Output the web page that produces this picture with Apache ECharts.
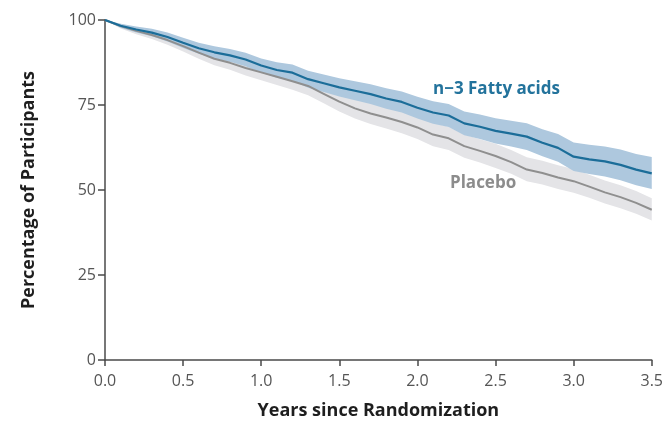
<!DOCTYPE html>
<html>
<head>
<meta charset="utf-8">
<script src="https://cdn.jsdelivr.net/npm/echarts@6/dist/echarts.min.js"></script>
<style>
  html, body { margin: 0; padding: 0; background: #fff; }
  #chart { width: 666px; height: 431px; }
</style>
</head>
<body>
<div id="chart"></div>
<script>
// years since randomization
var years = [0.0, 0.1, 0.2, 0.3, 0.4, 0.5, 0.6, 0.7, 0.8, 0.9, 1.0, 1.1, 1.2, 1.3, 1.4, 1.5, 1.6, 1.7,
    1.8, 1.9, 2.0, 2.1, 2.2, 2.3, 2.4, 2.5, 2.6, 2.7, 2.8, 2.9, 3.0, 3.1, 3.2, 3.3, 3.4, 3.5];

// n-3 fatty acids
var fattyLine = [100, 98.3, 97.2, 96.3, 95.0, 93.3, 91.7, 90.5, 89.6, 88.4, 86.6, 85.3, 84.5, 82.6, 81.4, 80.2, 79.2, 78.2,
    76.9, 75.9, 74.2, 72.8, 71.9, 69.6, 68.6, 67.4, 66.6, 65.7, 63.9, 62.4, 59.8, 59.0, 58.4, 57.4, 56.0, 54.9];
var fattyUpper = [100, 98.9, 98.1, 97.4, 96.3, 94.8, 93.3, 92.3, 91.5, 90.4, 88.7, 87.6, 86.9, 85.1, 84.0, 82.9, 82.0, 81.1,
    79.9, 79.0, 77.4, 76.1, 75.3, 73.1, 72.2, 71.1, 70.4, 69.6, 67.9, 66.5, 64.0, 63.3, 62.8, 61.9, 60.6, 59.7];
var fattyLower = [100, 97.7, 96.3, 95.2, 93.7, 91.8, 90.1, 88.7, 87.7, 86.4, 84.5, 83.0, 82.1, 80.1, 78.8, 77.5, 76.4, 75.3,
    73.9, 72.8, 71.0, 69.5, 68.5, 66.1, 65.0, 63.7, 62.8, 61.8, 59.9, 58.3, 55.6, 54.7, 54.0, 52.9, 51.4, 50.3];

// placebo
var placeboLine = [100, 98.2, 96.8, 95.6, 94.1, 92.3, 90.4, 88.6, 87.4, 85.9, 84.6, 83.3, 82.0, 80.6, 78.3, 76.0, 74.0, 72.5,
    71.3, 70.0, 68.4, 66.3, 65.2, 62.9, 61.5, 60.0, 58.2, 56.0, 55.0, 53.7, 52.6, 51.0, 49.3, 47.9, 46.2, 44.2];
var placeboUpper = [100, 98.9, 97.8, 96.8, 95.5, 93.9, 92.2, 90.5, 89.4, 88.1, 86.9, 85.7, 84.5, 83.3, 81.1, 78.9, 77.0, 75.6,
    74.5, 73.3, 71.8, 69.7, 68.6, 66.3, 64.9, 63.6, 61.8, 59.6, 58.6, 57.3, 56.2, 54.5, 52.8, 51.4, 49.7, 47.6];
var placeboLower = [100, 97.5, 95.8, 94.4, 92.7, 90.7, 88.6, 86.7, 85.4, 83.7, 82.3, 80.9, 79.5, 77.9, 75.5, 73.1, 71.0, 69.4,
    68.1, 66.7, 65.0, 62.9, 61.8, 59.5, 58.1, 56.5, 54.8, 52.6, 51.6, 50.3, 49.2, 47.7, 46.0, 44.6, 43.0, 41.0];

var xTicks = [0, 0.5, 1.0, 1.5, 2.0, 2.5, 3.0, 3.5];
var yTicks = [0, 25, 50, 75, 100];

var font = '"Open Sans", "DejaVu Sans", sans-serif';

function pairs(ys) {
    return years.map((x, i) => [x, ys[i]]);
}

// confidence band as a polygon: upper edge forward, lower edge back
function band(name, lo, hi, color) {
    return {
        name: name, type: 'custom', silent: true,
        data: [[0, 0]],
        renderItem: function (params, api) {
            var pts = [];
            years.forEach((x, i) => pts.push(api.coord([x, hi[i]])));
            for (var i = years.length - 1; i >= 0; i--) {
                pts.push(api.coord([years[i], lo[i]]));
            }
            return {
                type: 'polygon',
                shape: { points: pts },
                style: { fill: color }
            };
        }
    };
}

var chart = echarts.init(document.getElementById('chart'));

var axisColor = '#4a4a4a';

var option = {
    animation: false,
    backgroundColor: '#fff',
    grid: { left: 105, right: 14, top: 20, bottom: 71 },
    xAxis: {
        type: 'value', min: 0, max: 3.5, interval: 0.5,
        name: 'Years since Randomization',
        nameLocation: 'middle', nameGap: 42,
        nameTextStyle: { fontFamily: font, fontWeight: 'bold', fontSize: 18, color: '#1e1e1e' },
        axisLine: { lineStyle: { color: axisColor, width: 1.5 } },
        axisTick: { show: true, length: 6, lineStyle: { color: axisColor, width: 1.5 } },
        axisLabel: {
            fontFamily: font, fontSize: 16, color: '#555', margin: 13,
            formatter: v => xTicks.indexOf(v) >= 0 ? v.toFixed(1) : ''
        },
        splitLine: { show: false }
    },
    yAxis: {
        type: 'value', min: 0, max: 100, interval: 25,
        name: 'Percentage of Participants',
        nameLocation: 'middle', nameGap: 67, nameRotate: 90,
        nameTextStyle: { fontFamily: font, fontWeight: 'bold', fontSize: 18, color: '#1e1e1e' },
        axisLine: { show: true, lineStyle: { color: axisColor, width: 1.5 } },
        axisTick: { show: true, length: 7, lineStyle: { color: axisColor, width: 1.5 } },
        axisLabel: {
            fontFamily: font, fontSize: 16, color: '#555', margin: 9,
            formatter: v => yTicks.indexOf(v) >= 0 ? String(v) : ''
        },
        splitLine: { show: false }
    },
    series: [
        band('placebo-ci', placeboLower, placeboUpper, '#e4e4e7'),
        band('fatty-ci', fattyLower, fattyUpper, '#aec8de'),
        {
            name: 'Placebo', type: 'line', data: pairs(placeboLine), symbol: 'none',
            lineStyle: { color: '#8f8f8f', width: 2 }
        },
        {
            name: 'n-3 Fatty acids', type: 'line', data: pairs(fattyLine), symbol: 'none',
            lineStyle: { color: '#1b6d99', width: 2.2 }
        }
    ],
    graphic: [
        {
            type: 'text', left: 433, top: 81,
            style: { text: 'n\u22123 Fatty acids', fill: '#23739c', font: 'bold 17px ' + font }
        },
        {
            type: 'text', left: 450, top: 175,
            style: { text: 'Placebo', fill: '#8c8c8c', font: 'bold 17px ' + font }
        }
    ]
};

chart.setOption(option);
</script>
</body>
</html>
